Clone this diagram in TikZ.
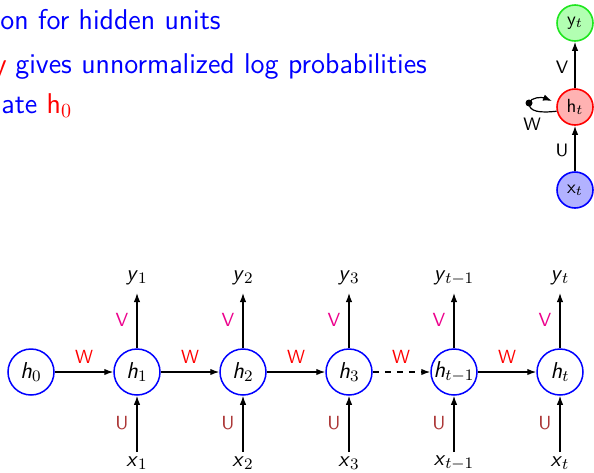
\documentclass[tikz,border=0pt]{standalone}
\usetikzlibrary{arrows.meta}
\definecolor{ucol}{RGB}{170,51,51}
\definecolor{gborder}{RGB}{30,230,30}
\newcommand{\slv}[2]{\textsf{\slshape #1}$_{#2}$}
\begin{document}
\begin{tikzpicture}[x=0.5pt,y=-0.5pt,
  hnode/.style={circle,draw=blue,line width=0.75pt,minimum size=23pt,inner sep=0pt,font=\fontsize{11.5}{13}\selectfont},
  lab/.style={inner sep=0pt,font=\fontsize{11}{13}\selectfont},
  wlab/.style={inner sep=0pt,font=\sffamily\fontsize{9.5}{11}\selectfont,text=red},
  vlab/.style={inner sep=0pt,font=\sffamily\fontsize{9.5}{11}\selectfont,text=magenta},
  ulab/.style={inner sep=0pt,font=\sffamily\fontsize{9.5}{11}\selectfont,text=ucol},
  arr/.style={-{Latex[length=4.5pt,width=3.2pt]},line width=0.6pt},
  tnode/.style={circle,line width=0.8pt,minimum size=18pt,inner sep=0pt,font=\sffamily\fontsize{9.5}{11}\selectfont},
  btxt/.style={inner sep=0pt,anchor=base west,font=\sffamily\fontsize{14.3}{17}\selectfont,text=blue},
  tlab/.style={inner sep=0pt,font=\sffamily\fontsize{9}{11}\selectfont}
]
\useasboundingbox (0,0) rectangle (594,472);
\clip (0,0) rectangle (594,472);
% top text
\node[btxt] (l1) at (0,29) {on for hidden units};
\node[btxt] (l2) at (15,73) {gives unnormalized log probabilities};
\node[inner sep=0pt,anchor=base east,font=\sffamily\fontsize{14.3}{17}\selectfont,text=red] (l2y) at (7,73) {y};
\node[btxt] (l3) at (1,113) {ate \textcolor{red}{h$_0$}};
% top-right diagram
\node[tnode,draw=gborder,fill=green!30] (yt) at (575,23) {y$_t$};
\node[tnode,draw=red,fill=red!30] (htt) at (575,107) {h$_t$};
\node[tnode,draw=blue,fill=blue!30] (xt) at (575,190) {x$_t$};
\draw[arr] (xt) -- (htt);
\draw[arr] (htt) -- (yt);
\node[tlab] (tv) at (562,67) {V};
\node[tlab] (tu) at (562,150) {U};
\node[tlab] (tw) at (532,124) {W};
\node[circle,fill=black,inner sep=0pt,minimum size=3.5pt] (dot) at (529,103) {};
\coordinate (loopend) at (552,101);
\draw[line width=0.6pt] (htt.193) .. controls (540,113) and (529,112) .. (dot.center);
\draw[arr] (dot.center) .. controls (531,97) and (542,97) .. (loopend);
% chain
\foreach \n/\x/\s in {h0/31/0,h1/137/1,h2/243/2,h3/349/3,hm/454/{t-1},ht/560/t}{
  \node[hnode] (\n) at (\x,372) {\slv{h}{\s}};
}
\foreach \n/\x/\s in {h1/137/1,h2/243/2,h3/349/3,hm/454/{t-1},ht/560/t}{
  \node[lab] (y\n) at (\x,278) {\slv{y}{\s}};
  \node[lab] (x\n) at (\x,463) {\slv{x}{\s}};
  \coordinate (ya\n) at (\x,293);
  \coordinate (xa\n) at (\x,452);
  \draw[arr] (\n) -- (ya\n);
  \draw[arr] (xa\n) -- (\n);
  \node[vlab] (v\n) at (\x-15,320) {V};
  \node[ulab] (u\n) at (\x-15,423) {U};
}
\draw[arr] (h0) -- (h1);
\draw[arr] (h1) -- (h2);
\draw[arr] (h2) -- (h3);
\draw[arr,dashed] (h3) -- (hm);
\draw[arr] (hm) -- (ht);
\node[wlab] (w1) at (84,357) {W};
\node[wlab] (w2) at (190,357) {W};
\node[wlab] (w3) at (296,357) {W};
\node[wlab] (w4) at (401,357) {W};
\node[wlab] (w5) at (507,357) {W};
\end{tikzpicture}
\end{document}
